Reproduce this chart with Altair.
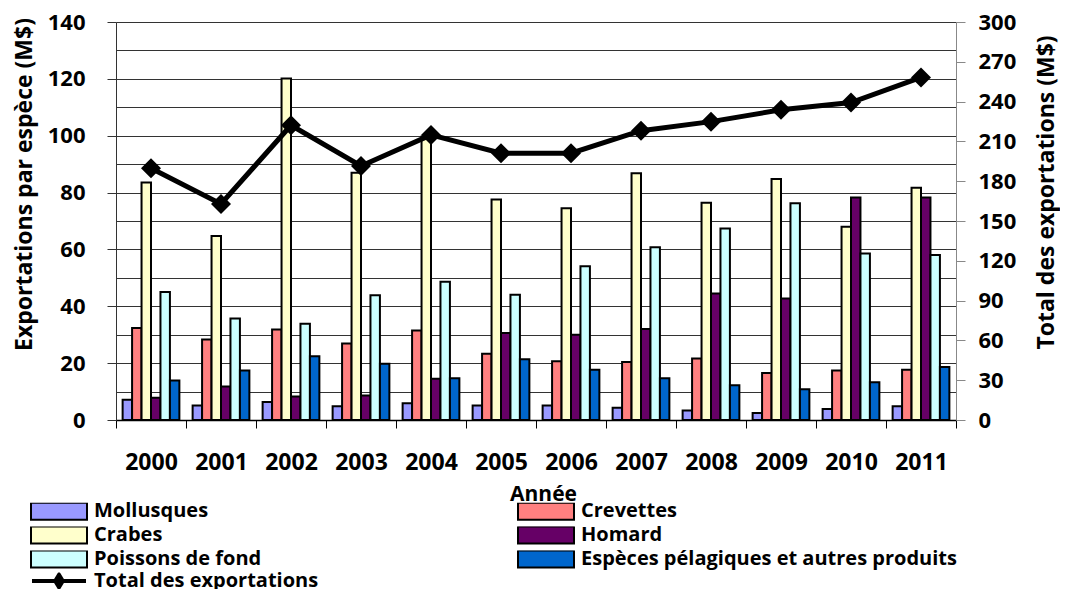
import altair as alt
import pandas as pd

years = [str(y) for y in range(2000, 2012)]
species = ["Mollusques", "Crevettes", "Crabes", "Homard", "Poissons de fond",
           "Espèces pélagiques et autres produits"]
colors = ["#9999FF", "#FF8080", "#FFFFCC", "#660066", "#CCFFFF", "#0066CC"]

mollusques = [7.1, 5.1, 6.3, 4.8, 5.9, 5.1, 5.1, 4.3, 3.3, 2.5, 3.9, 4.8]
crevettes = [32.4, 28.3, 31.8, 26.9, 31.5, 23.3, 20.7, 20.4, 21.6, 16.5, 17.4, 17.7]
crabes = [83.5, 64.7, 120.1, 87.0, 99.7, 77.6, 74.5, 86.8, 76.4, 84.8, 68.0, 81.7]
homard = [7.8, 11.8, 8.3, 8.6, 14.5, 30.6, 30.0, 32.0, 44.5, 42.7, 78.3, 78.3]
poissons = [45.0, 35.7, 33.9, 43.9, 48.6, 44.1, 54.1, 60.8, 67.4, 76.2, 58.6, 58.0]
pelagiques = [13.9, 17.4, 22.4, 19.8, 14.7, 21.4, 17.7, 14.7, 12.2, 10.8, 13.3, 18.6]
total = [189.7, 162.8, 222.2, 191.5, 214.9, 201.1, 201.1, 218.1, 224.9, 233.8, 239.3, 258.2]
total_label = "Total des exportations"

# legend is filled column by column: reorder so it reads row by row like the original
legend_order = [0, 2, 4, 1, 3, 5]
legend_species = [species[i] for i in legend_order]
legend_colors = [colors[i] for i in legend_order]

series = [mollusques, crevettes, crabes, homard, poissons, pelagiques]
rows = []
for sp, vals in zip(species, series):
    for yr, v in zip(years, vals):
        rows.append({"Année": yr, "Espèce": sp, "Valeur": v})
df_bars = pd.DataFrame(rows)
df_total = pd.DataFrame({"Année": years, "Total": total, "Série": [total_label] * len(years)})

FONT = "Open Sans"

x_enc = alt.X(
    "Année:N", sort=years,
    scale=alt.Scale(paddingInner=0, paddingOuter=0),
    axis=alt.Axis(
        title="Année", labelAngle=0, tickBand="extent", tickSize=8,
        tickColor="black", domainColor="black", domainWidth=1.5,
        labelFont=FONT, labelFontWeight="bold", labelFontSize=23, labelColor="black",
        labelPadding=23,
        titleFont=FONT, titleFontWeight="bold", titleFontSize=21, titleColor="black",
        titleX=427, titleY=80, titleBaseline="alphabetic", titleAlign="center",
    ),
)

bars = alt.Chart(df_bars).mark_bar(stroke="black", strokeWidth=2).encode(
    x=x_enc,
    xOffset=alt.XOffset("Espèce:N", sort=species,
                        scale=alt.Scale(paddingInner=0, paddingOuter=0.7)),
    y=alt.Y(
        "Valeur:Q",
        scale=alt.Scale(domain=[0, 140], nice=False),
        axis=alt.Axis(
            values=list(range(0, 141, 10)), grid=True, gridColor="#333", gridWidth=1,
            tickSize=9, tickColor="#333",
            tickOpacity=alt.condition("datum.value % 20 == 0", alt.value(1), alt.value(0)),
            labelExpr="datum.value % 20 == 0 ? datum.label : ''",
            domainColor="#333", labelPadding=22,
            labelFont=FONT, labelFontWeight="bold", labelFontSize=22, labelColor="black",
            title="Exportations par espèce (M$)",
            titleFont=FONT, titleFontWeight="bold", titleFontSize=23, titleColor="black",
            titleAngle=270, titleX=-92, titleY=162, titleBaseline="middle", titleAlign="center",
        ),
    ),
    fill=alt.Fill(
        "Espèce:N",
        scale=alt.Scale(domain=legend_species, range=legend_colors),
        legend=alt.Legend(
            title=None, orient="none", legendX=-86, legendY=480.5, columns=2,
            columnPadding=255, rowPadding=3, clipHeight=17, padding=0,
            symbolType="M-1,-0.3H1V0.3H-1Z", symbolSize=3136,
            symbolStrokeColor="black", symbolStrokeWidth=2, symbolOpacity=1,
            labelFont=FONT, labelFontSize=20, labelFontWeight="bold", labelColor="black",
            labelOffset=6, labelLimit=600,
        ),
    ),
)

line = alt.Chart(df_total).mark_line(
    strokeWidth=5,
    point=alt.OverlayMarkDef(shape="diamond", filled=True, size=400, fill="black",
                             stroke="black", strokeWidth=0, opacity=1),
).encode(
    x=alt.X("Année:N", sort=years),
    y=alt.Y(
        "Total:Q",
        scale=alt.Scale(domain=[0, 300], nice=False),
        axis=alt.Axis(
            orient="right", values=list(range(0, 301, 30)), grid=False,
            tickSize=9, tickColor="#888", domainColor="#888", labelPadding=13,
            labelFont=FONT, labelFontWeight="bold", labelFontSize=22, labelColor="black",
            title="Total des exportations (M$)",
            titleFont=FONT, titleFontWeight="bold", titleFontSize=23, titleColor="black",
            titleAngle=270, titleX=90, titleY=170, titleBaseline="middle", titleAlign="center",
        ),
    ),
    stroke=alt.Stroke(
        "Série:N",
        scale=alt.Scale(domain=[total_label], range=["black"]),
        legend=alt.Legend(
            title=None, orient="none", legendX=-86, legendY=550.5, clipHeight=17, padding=0,
            symbolType="M-1,0H1M0,-0.23L0.14,0L0,0.23L-0.14,0Z", symbolSize=2916,
            symbolStrokeWidth=4, symbolFillColor="black", symbolStrokeColor="black",
            symbolOpacity=1,
            labelFont=FONT, labelFontSize=20, labelFontWeight="bold", labelColor="black",
            labelOffset=6, labelLimit=600,
        ),
    ),
)

chart = alt.layer(bars, line).resolve_scale(y="independent", fill="independent").properties(
    width=840, height=398,
    autosize=alt.AutoSizeParams(type="none"),
    padding={"left": 108, "top": 14, "right": 104, "bottom": 169},
).configure_view(strokeWidth=0).configure(background="white")

chart.save("out.html", embed_options={"renderer": "svg", "actions": False})
